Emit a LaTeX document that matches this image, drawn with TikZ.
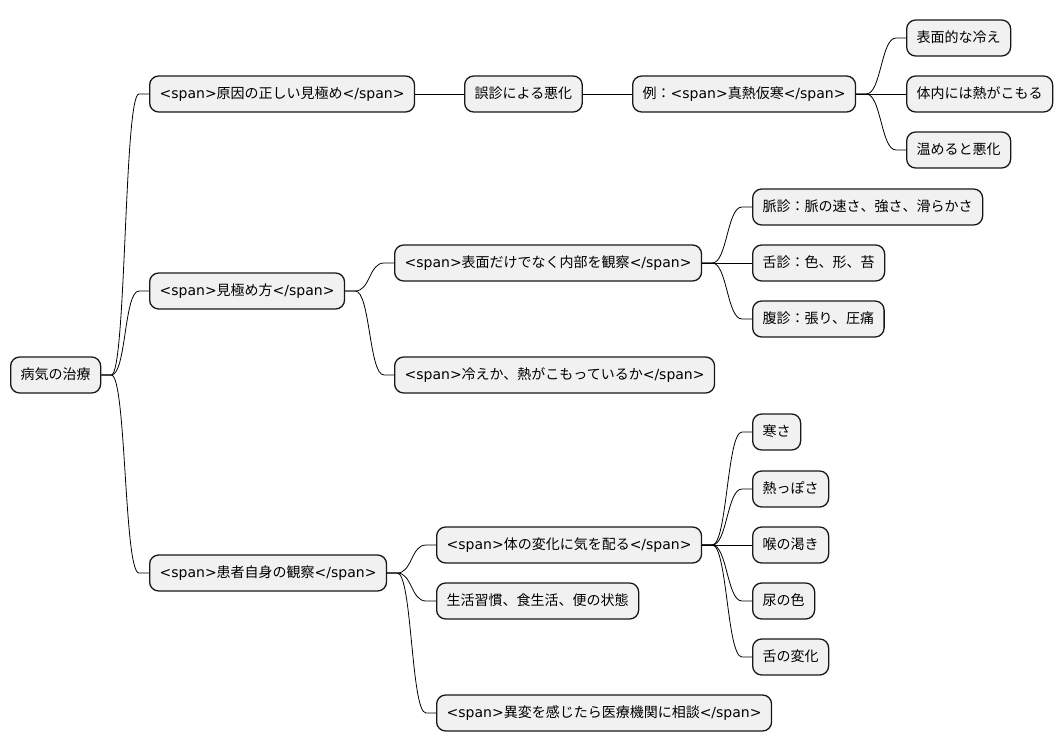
\documentclass[tikz,border=0pt]{standalone}
\usepackage{fontspec}
\usepackage{xcolor}
\setmainfont{DejaVu Sans}
\newfontfamily\jpfont{Noto Sans CJK JP}
\newcommand{\jtxt}[1]{{\jpfont #1}}
\definecolor{boxfill}{HTML}{F1F1F1}
\definecolor{boxline}{HTML}{181818}

\begin{document}
\begin{tikzpicture}[
  x=1pt, y=-1pt,
  topic/.style={
    rectangle, rounded corners=9pt, fill=boxfill, draw=boxline,
    line width=1.3pt, anchor=west,
    font=\fontsize{14}{16}\selectfont,
    minimum height=36pt, inner xsep=10pt, inner ysep=0pt,
    text height=11pt, text depth=3pt
  },
  branch/.style={
    line width=0.8pt, color=black
  }
]

\useasboundingbox (0,0) rectangle (1062,752);

%% Column x-positions (left edges)
\def\xA{10}
\def\xB{149}
\def\xM{394}
\def\xN{436}
\def\xC{464}
\def\xP{752}
\def\xD{632}
\def\xE{906}

%% === ROOT ===
\node[topic] (root) at (\xA, 375) {\jtxt{病気の治療}};

%% === BRANCH 1: 原因の正しい見極め ===
\node[topic] (a1) at (\xB, 94)  {<span>\jtxt{原因の正しい見極め}</span>};
\node[topic] (a2) at (\xC, 94)  {\jtxt{誤診による悪化}};
\node[topic] (a3) at (\xD, 94)  {\jtxt{例：}<span>\jtxt{真熱仮寒}</span>};
\node[topic] (a4) at (\xE, 38)  {\jtxt{表面的な冷え}};
\node[topic] (a5) at (\xE, 94)  {\jtxt{体内には熱がこもる}};
\node[topic] (a6) at (\xE, 150) {\jtxt{温めると悪化}};

%% === BRANCH 2: 見極め方 ===
\node[topic] (b1) at (\xB, 291) {<span>\jtxt{見極め方}</span>};
\node[topic] (b2) at (\xM, 263) {<span>\jtxt{表面だけでなく内部を観察}</span>};
\node[topic] (b3) at (\xP, 207) {\jtxt{脈診：脈の速さ、強さ、滑らかさ}};
\node[topic] (b4) at (\xP, 263) {\jtxt{舌診：色、形、苔}};
\node[topic] (b5) at (\xP, 319) {\jtxt{腹診：張り、圧痛}};
\node[topic] (b6) at (\xM, 375) {<span>\jtxt{冷えか、熱がこもっているか}</span>};

%% === BRANCH 3: 患者自身の観察 ===
\node[topic] (c1) at (\xB, 573) {<span>\jtxt{患者自身の観察}</span>};
\node[topic] (c2) at (\xN, 545) {<span>\jtxt{体の変化に気を配る}</span>};
\node[topic] (c3) at (\xP, 432) {\jtxt{寒さ}};
\node[topic] (c4) at (\xP, 489) {\jtxt{熱っぽさ}};
\node[topic] (c5) at (\xP, 545) {\jtxt{喉の渇き}};
\node[topic] (c6) at (\xP, 601) {\jtxt{尿の色}};
\node[topic] (c7) at (\xP, 657) {\jtxt{舌の変化}};
\node[topic] (c8) at (\xN, 601) {\jtxt{生活習慣、食生活、便の状態}};
\node[topic] (c9) at (\xN, 713) {<span>\jtxt{異変を感じたら医療機関に相談}</span>};

%% === CONNECTORS (straight stub, curve, straight stub) ===
\draw[branch] (root.east) -- ++(10,0) .. controls +(15,0) and +(-15,0) .. ([xshift=-10pt]a1.west) -- (a1.west);
\draw[branch] (root.east) -- ++(10,0) .. controls +(15,0) and +(-15,0) .. ([xshift=-10pt]b1.west) -- (b1.west);
\draw[branch] (root.east) -- ++(10,0) .. controls +(15,0) and +(-15,0) .. ([xshift=-10pt]c1.west) -- (c1.west);

\draw[branch] (a1.east) -- (a2.west);
\draw[branch] (a2.east) -- (a3.west);
\draw[branch] (a3.east) -- ++(10,0) .. controls +(15,0) and +(-15,0) .. ([xshift=-10pt]a4.west) -- (a4.west);
\draw[branch] (a3.east) -- (a5.west);
\draw[branch] (a3.east) -- ++(10,0) .. controls +(15,0) and +(-15,0) .. ([xshift=-10pt]a6.west) -- (a6.west);

\draw[branch] (b1.east) -- ++(10,0) .. controls +(15,0) and +(-15,0) .. ([xshift=-10pt]b2.west) -- (b2.west);
\draw[branch] (b1.east) -- ++(10,0) .. controls +(15,0) and +(-15,0) .. ([xshift=-10pt]b6.west) -- (b6.west);
\draw[branch] (b2.east) -- ++(10,0) .. controls +(15,0) and +(-15,0) .. ([xshift=-10pt]b3.west) -- (b3.west);
\draw[branch] (b2.east) -- (b4.west);
\draw[branch] (b2.east) -- ++(10,0) .. controls +(15,0) and +(-15,0) .. ([xshift=-10pt]b5.west) -- (b5.west);

\draw[branch] (c1.east) -- ++(10,0) .. controls +(15,0) and +(-15,0) .. ([xshift=-10pt]c2.west) -- (c2.west);
\draw[branch] (c1.east) -- ++(10,0) .. controls +(15,0) and +(-15,0) .. ([xshift=-10pt]c8.west) -- (c8.west);
\draw[branch] (c1.east) -- ++(10,0) .. controls +(15,0) and +(-15,0) .. ([xshift=-10pt]c9.west) -- (c9.west);
\draw[branch] (c2.east) -- ++(10,0) .. controls +(15,0) and +(-15,0) .. ([xshift=-10pt]c3.west) -- (c3.west);
\draw[branch] (c2.east) -- ++(10,0) .. controls +(15,0) and +(-15,0) .. ([xshift=-10pt]c4.west) -- (c4.west);
\draw[branch] (c2.east) -- (c5.west);
\draw[branch] (c2.east) -- ++(10,0) .. controls +(15,0) and +(-15,0) .. ([xshift=-10pt]c6.west) -- (c6.west);
\draw[branch] (c2.east) -- ++(10,0) .. controls +(15,0) and +(-15,0) .. ([xshift=-10pt]c7.west) -- (c7.west);

\end{tikzpicture}
\end{document}
